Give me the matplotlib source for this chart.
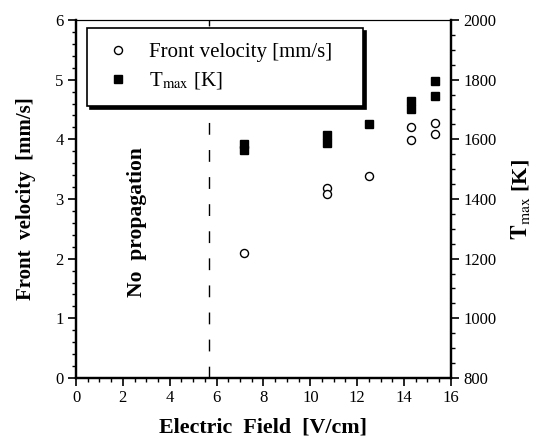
import numpy as np
import matplotlib
matplotlib.use('Agg')
import matplotlib.pyplot as plt
from matplotlib.ticker import MultipleLocator

plt.rcParams['font.family'] = 'serif'
plt.rcParams['font.serif'] = ['Liberation Serif', 'DejaVu Serif']
plt.rcParams['mathtext.fontset'] = 'stix'

# data
field_v = [7.15, 10.7, 10.7, 12.5, 14.3, 14.3, 15.3, 15.3]
velocity = [2.09, 3.19, 3.09, 3.39, 4.21, 3.99, 4.28, 4.09]
field_t = [7.15, 7.15, 10.7, 10.7, 12.5, 14.3, 14.3, 15.3, 15.3]
tmax = [1583, 1563, 1614, 1587, 1651, 1727, 1702, 1797, 1746]
e_threshold = 5.68

fig = plt.figure(figsize=(5.41, 4.42), dpi=100)
ax = fig.add_axes([0.1405, 0.1448, 0.693, 0.81])
ax2 = ax.twinx()

l1, = ax.plot(field_v, velocity, 'o', mfc='white', mec='black', ms=5.8, mew=1.0,
              label='Front velocity [mm/s]')
l2, = ax2.plot(field_t, tmax, 's', color='black', ms=5.1, label=r'T$_{\rm max}$ [K]')
ax.axvline(e_threshold, color='black', lw=1.0, dashes=(8.5, 11))

ax.text(2.6, 2.61, 'No  propagation', rotation=90, ha='center', va='center',
        fontsize=15.5, fontweight='bold')

ax.set_xlim(0, 16)
ax.set_ylim(0, 6)
ax2.set_ylim(800, 2000)
ax.xaxis.set_major_locator(MultipleLocator(2))
ax.xaxis.set_minor_locator(MultipleLocator(0.5))
ax.yaxis.set_major_locator(MultipleLocator(1))
ax.yaxis.set_minor_locator(MultipleLocator(0.2))
ax2.yaxis.set_major_locator(MultipleLocator(200))
ax2.yaxis.set_minor_locator(MultipleLocator(50))

for a in (ax, ax2):
    a.tick_params(which='major', direction='out', length=6, width=1.2, labelsize=12, pad=3)
    a.tick_params(which='minor', direction='out', length=3, width=1.0)
    for s in ('left', 'bottom', 'right'):
        a.spines[s].set_linewidth(1.6)
    a.spines['top'].set_linewidth(0.8)

ax.set_xlabel('Electric  Field  [V/cm]', fontsize=15.8, fontweight='bold', labelpad=8)
ax.set_ylabel('Front  velocity  [mm/s]', fontsize=15, fontweight='bold', labelpad=14)
ax2.set_ylabel(r'$\mathbf{T}_{\mathrm{max}}$ [K]', fontsize=16, fontweight='bold', labelpad=9)

leg = ax2.legend([l1, l2], [l1.get_label(), l2.get_label()], loc='upper left',
                 bbox_to_anchor=(0.029, 0.757, 0.736, 0.221), mode='expand',
                 borderaxespad=0, fontsize=15,
                 fancybox=False, edgecolor='black', framealpha=1,
                 shadow={'color': 'black', 'alpha': 1}, handletextpad=0.7,
                 borderpad=0.7, labelspacing=0.4, handlelength=1.6)
leg.get_frame().set_linewidth(1.2)
leg.set_zorder(10)

fig.savefig('out.png', dpi=100)
